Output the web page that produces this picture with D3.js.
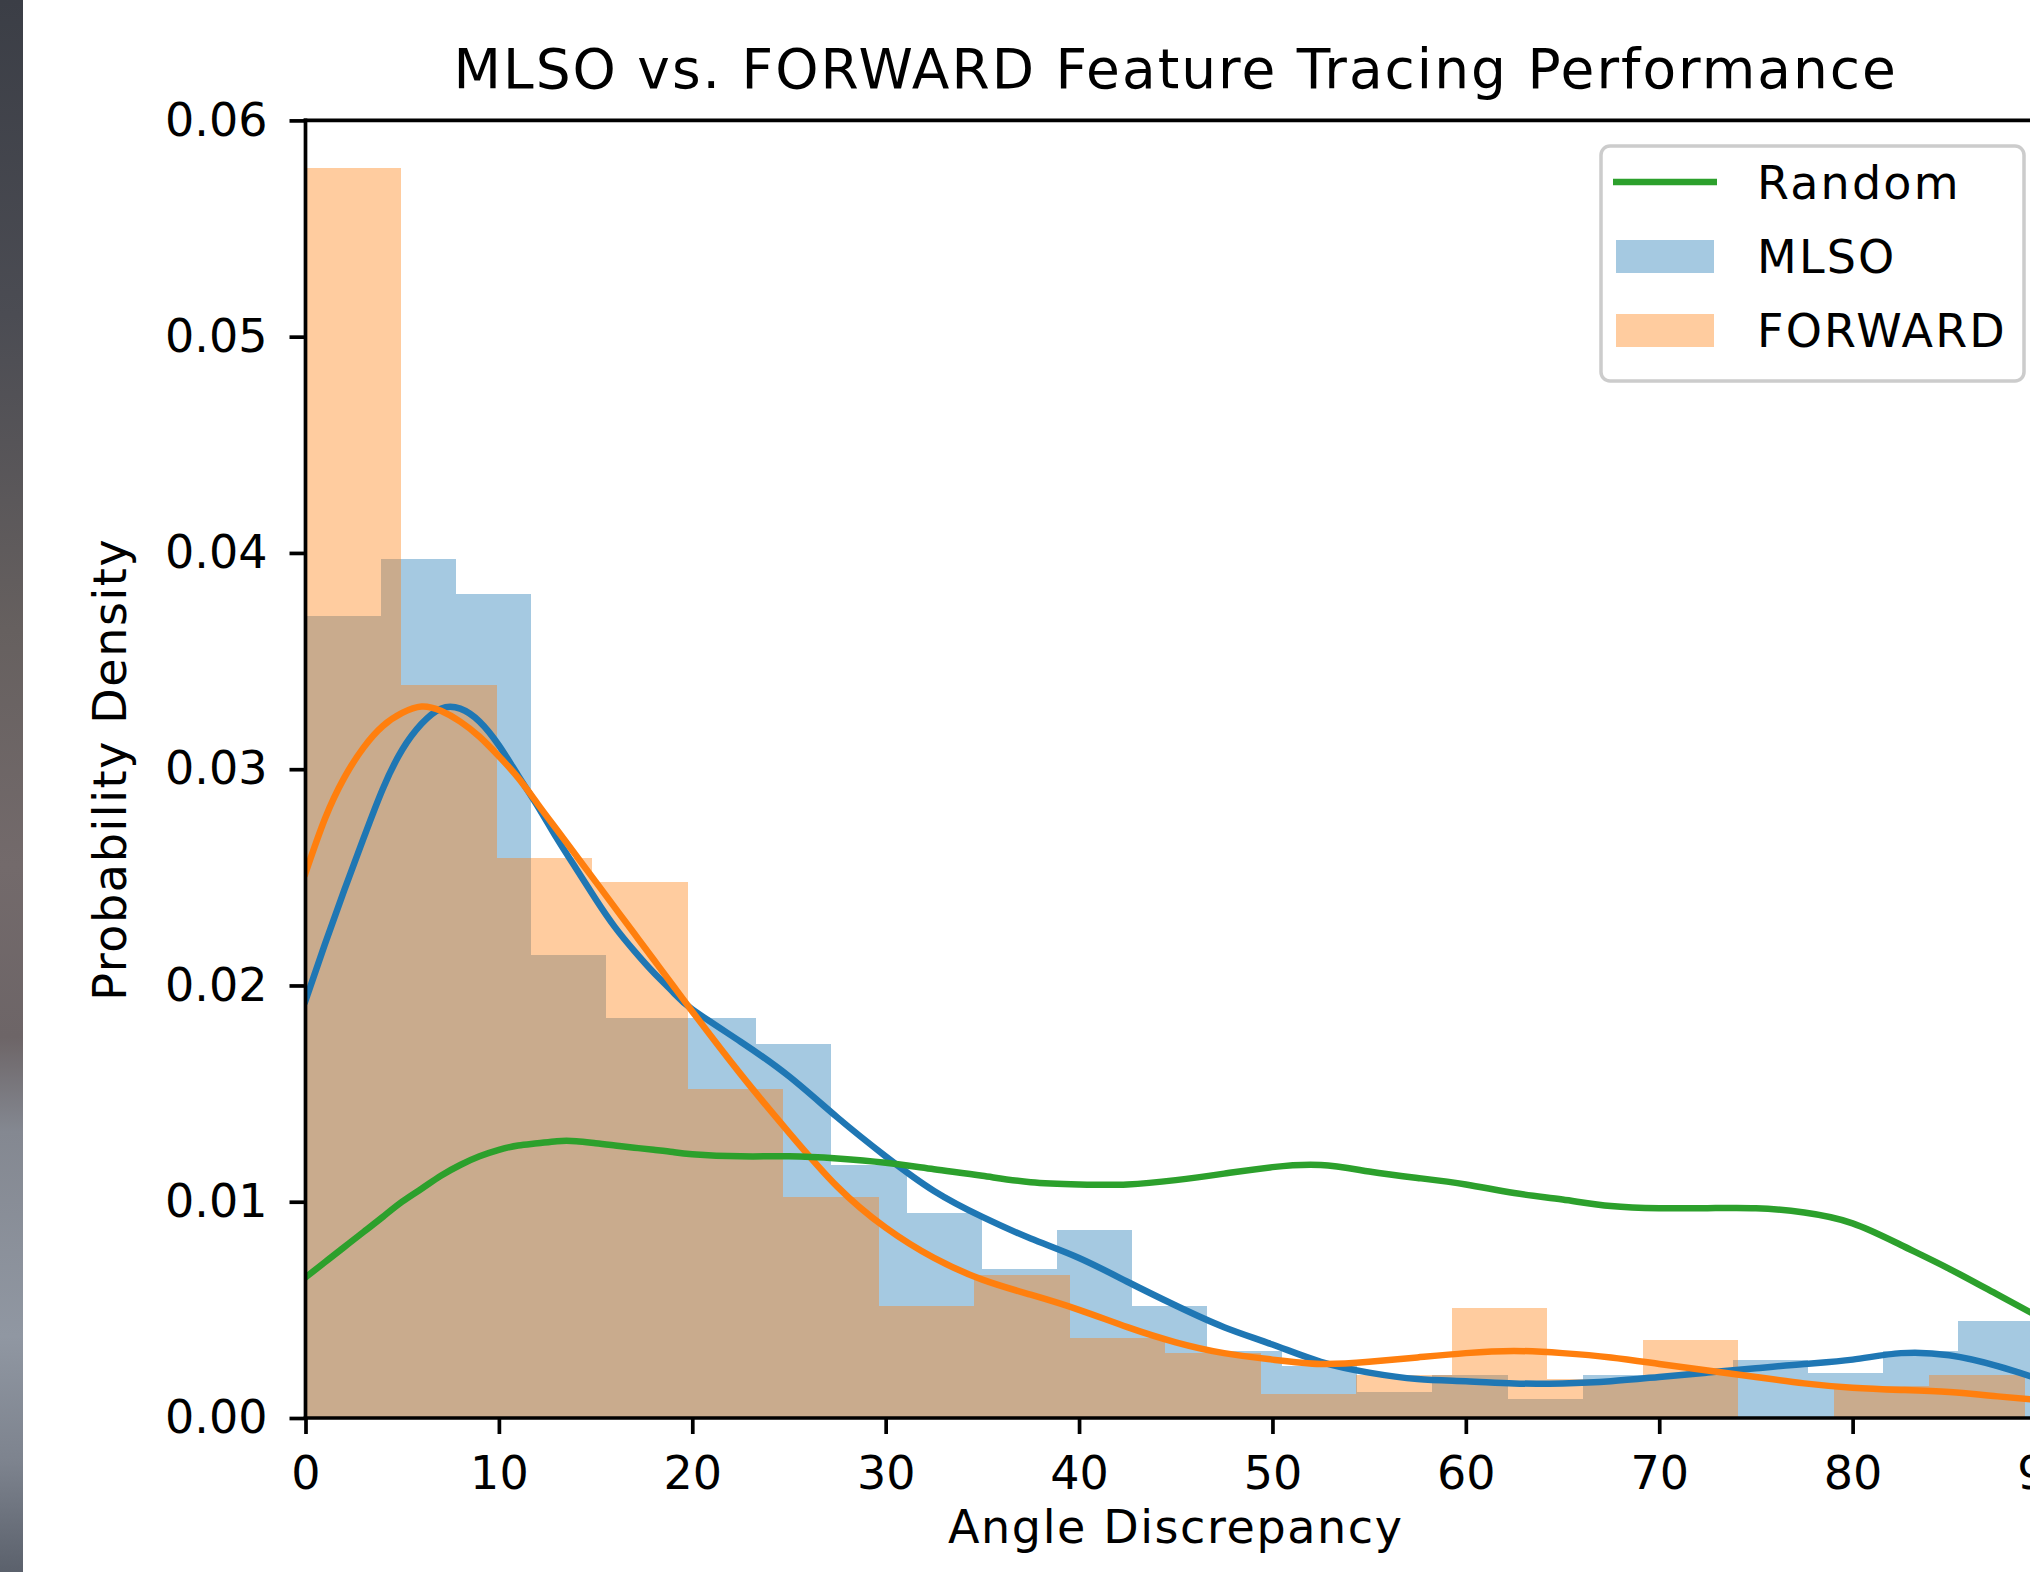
<!DOCTYPE html>
<html lang="en">
<head>
    <meta charset="UTF-8">
    <title>MLSO vs. FORWARD</title>
    <script src="https://d3js.org/d3.v7.min.js"></script>
    <style>
        * {
            margin: 0;
            padding: 0;
            box-sizing: border-box;
        }

        html, body {
            width: 2030px;
            height: 1572px;
            overflow: hidden;
            background: white;
        }

        svg {
            display: block;
            font-family: "DejaVu Sans", sans-serif;
        }
    </style>
</head>
<body>
<svg id="chart" width="2030" height="1572"></svg>
<script>
    // histogram bins (density)
    const mlsoBinStart = 0
    const mlsoBinWidth = 3.885
    const mlsoHeights = [0.0371, 0.0397, 0.0381, 0.0214, 0.0185, 0.0185, 0.0173, 0.0117, 0.0095, 0.0069,
        0.0087, 0.0052, 0.0031, 0.0024, 0.0012, 0.0020, 0.0009, 0.0020, 0.0020, 0.0027, 0.0021, 0.0031, 0.0045]

    const forwardBinStart = 0
    const forwardBinWidth = 4.939
    const forwardHeights = [0.0578, 0.0339, 0.0259, 0.0248, 0.0152, 0.0102, 0.0052, 0.0066, 0.0037, 0.0030,
        0.0011, 0.0020, 0.0051, 0.0018, 0.0036, 0.0, 0.0015, 0.0020]

    // KDE curves sampled along the x axis
    const kdeX = [0, 1, 2, 3, 4, 5, 6, 7, 8, 9, 10, 11, 12, 13, 14, 15, 16, 17, 18, 19, 20,
        22.5, 25, 27.5, 30, 32.5, 35, 37.5, 40, 42.5, 45, 47.5, 50, 52.5, 55, 57.5, 60,
        62.5, 65, 67.5, 70, 72.5, 75, 77.5, 80, 82.5, 85, 87.5, 90]
    const mlsoKde = [0.0193, 0.0219, 0.0244, 0.0268, 0.0291, 0.0309, 0.0321, 0.0328, 0.0328, 0.0322, 0.0311,
        0.0297, 0.0283, 0.0268, 0.0254, 0.0240, 0.0227, 0.0216, 0.0206, 0.0197, 0.0189,
        0.0174, 0.0158, 0.0139, 0.0121, 0.0105, 0.0093, 0.0083, 0.0074, 0.0063, 0.0052, 0.0042, 0.0034,
        0.0026, 0.0021, 0.0018, 0.0017, 0.0016, 0.0016, 0.0017, 0.0019, 0.0021, 0.0023, 0.0025, 0.0027,
        0.0030, 0.0029, 0.0024, 0.0017]
    const forwardKde = [0.0252, 0.0277, 0.0296, 0.0310, 0.0320, 0.0326, 0.0329, 0.0327, 0.0322, 0.0315, 0.0306,
        0.0296, 0.0284, 0.0272, 0.0260, 0.0248, 0.0236, 0.0224, 0.0212, 0.0200, 0.0188,
        0.0159, 0.0132, 0.0107, 0.0088, 0.0074, 0.0064, 0.0057, 0.0050, 0.0042, 0.0035, 0.0030, 0.0027,
        0.0025, 0.0026, 0.0028, 0.0030, 0.0031, 0.0030, 0.0028, 0.0025, 0.0022, 0.0019, 0.0016, 0.0014,
        0.0013, 0.0012, 0.0010, 0.0008]
    const randomKde = [0.0065, 0.0072, 0.0079, 0.0086, 0.0093, 0.0100, 0.0106, 0.0112, 0.0117, 0.0121, 0.0124,
        0.0126, 0.0127, 0.0128, 0.0128, 0.0127, 0.0126, 0.0125, 0.0124, 0.0123, 0.0122,
        0.0121, 0.0121, 0.0120, 0.0118, 0.0115, 0.0112, 0.0109, 0.0108, 0.0108, 0.0110, 0.0113, 0.0116,
        0.0117, 0.0114, 0.0111, 0.0108, 0.0104, 0.0101, 0.0098, 0.0097, 0.0097, 0.0097, 0.0095, 0.0090,
        0.0080, 0.0069, 0.0057, 0.0045]

    const xTicks = [0, 10, 20, 30, 40, 50, 60, 70, 80, 90]
    const yTicks = [0, 0.01, 0.02, 0.03, 0.04, 0.05, 0.06]

    const BLUE = "#1f77b4", ORANGE = "#ff7f0e", GREEN = "#2ca02c"
    const FONT = 46
    const LW = 3.7

    const plotLeft = 305.5, plotRight = 2046, plotTop = 120.4, plotBottom = 1418

    const x = d3.scaleLinear([0, 90], [plotLeft, plotRight])
    const y = d3.scaleLinear([0, 0.06], [plotBottom, plotTop])

    const svg = d3.select("#chart")
    svg.append("rect").attr("width", 2030).attr("height", 1572).attr("fill", "white")

    // photo strip at the left edge of the crop
    const grad = svg.append("defs").append("linearGradient")
        .attr("id", "strip").attr("x1", 0).attr("y1", 0).attr("x2", 0).attr("y2", 1)
    ;[[0, "#3b3e46"], [0.2, "#4b4c53"], [0.4, "#66605f"], [0.55, "#736a6b"], [0.66, "#6d6567"],
        [0.72, "#848891"], [0.85, "#9097a2"], [0.93, "#7d838e"], [1, "#5b616c"]]
        .forEach(([o, c]) => grad.append("stop").attr("offset", o).attr("stop-color", c))
    svg.append("rect").attr("width", 23).attr("height", 1572).attr("fill", "url(#strip)")

    svg.append("clipPath").attr("id", "plot")
        .append("rect").attr("x", plotLeft).attr("y", plotTop)
        .attr("width", plotRight - plotLeft).attr("height", plotBottom - plotTop)

    const plot = svg.append("g").attr("clip-path", "url(#plot)")

    function bins(start, width, heights) {
        return heights.map((h, i) => ({ x0: start + i * width, x1: start + (i + 1) * width, h }))
    }

    plot.append("g").selectAll("rect")
        .data(bins(mlsoBinStart, mlsoBinWidth, mlsoHeights))
        .join("rect")
        .attr("x", d => x(d.x0))
        .attr("width", d => x(d.x1) - x(d.x0))
        .attr("y", d => y(d.h))
        .attr("height", d => y(0) - y(d.h))
        .attr("fill", BLUE)
        .attr("fill-opacity", 0.4)
        .attr("shape-rendering", "crispEdges")

    plot.append("g").selectAll("rect")
        .data(bins(forwardBinStart, forwardBinWidth, forwardHeights))
        .join("rect")
        .attr("x", d => x(d.x0))
        .attr("width", d => x(d.x1) - x(d.x0))
        .attr("y", d => y(d.h))
        .attr("height", d => y(0) - y(d.h))
        .attr("fill", ORANGE)
        .attr("fill-opacity", 0.4)
        .attr("shape-rendering", "crispEdges")

    const line = d3.line()
        .x(d => x(d[0]))
        .y(d => y(d[1]))
        .curve(d3.curveNatural)

    ;[[mlsoKde, BLUE], [forwardKde, ORANGE], [randomKde, GREEN]].forEach(([vals, color]) => {
        plot.append("path")
            .attr("d", line(kdeX.map((v, i) => [v, vals[i]])))
            .attr("fill", "none")
            .attr("stroke", color)
            .attr("stroke-width", 6.5)
            .attr("stroke-linejoin", "round")
            .attr("stroke-linecap", "square")
    })

    // axes
    const xAxis = svg.append("g")
        .attr("transform", `translate(0,${plotBottom})`)
        .call(d3.axisBottom(x).tickValues(xTicks).tickFormat(d3.format("d"))
            .tickSize(16).tickSizeOuter(0).tickPadding(22))
    const yAxis = svg.append("g")
        .attr("transform", `translate(${plotLeft},0)`)
        .call(d3.axisLeft(y).tickValues(yTicks).tickFormat(d3.format(".2f"))
            .tickSize(16).tickSizeOuter(0).tickPadding(22))
    ;[xAxis, yAxis].forEach(a => {
        a.select(".domain").remove()
        a.selectAll("line").attr("stroke", "black").attr("stroke-width", LW)
        a.selectAll("text").attr("fill", "black").attr("font-size", FONT)
            .attr("font-family", "DejaVu Sans")
    })

    // spines
    const spines = svg.append("g").attr("stroke", "black").attr("stroke-width", LW)
        .attr("stroke-linecap", "square")
    spines.append("line").attr("x1", plotLeft).attr("x2", plotLeft).attr("y1", plotTop).attr("y2", plotBottom)
    spines.append("line").attr("x1", plotLeft).attr("x2", plotRight).attr("y1", plotBottom).attr("y2", plotBottom)
    spines.append("line").attr("x1", plotLeft).attr("x2", plotRight).attr("y1", plotTop).attr("y2", plotTop)
    spines.append("line").attr("x1", plotRight).attr("x2", plotRight).attr("y1", plotTop).attr("y2", plotBottom)

    // labels
    svg.append("text")
        .attr("x", (plotLeft + plotRight) / 2).attr("y", 88)
        .attr("text-anchor", "middle").attr("font-size", 55)
        .attr("letter-spacing", 2.0)
        .text("MLSO vs. FORWARD Feature Tracing Performance")
    svg.append("text")
        .attr("x", (plotLeft + plotRight) / 2).attr("y", 1543)
        .attr("text-anchor", "middle").attr("font-size", FONT)
        .attr("letter-spacing", 1.6)
        .text("Angle Discrepancy")
    svg.append("text")
        .attr("transform", `translate(126,${(plotTop + plotBottom) / 2}) rotate(-90)`)
        .attr("text-anchor", "middle").attr("font-size", FONT)
        .attr("letter-spacing", 1.6)
        .text("Probability Density")

    // legend
    const legend = svg.append("g")
    legend.append("rect")
        .attr("x", 1601).attr("y", 146).attr("width", 423).attr("height", 235)
        .attr("rx", 9).attr("fill", "white").attr("fill-opacity", 0.8)
        .attr("stroke", "#cccccc").attr("stroke-width", 3.5)
    const items = [
        { label: "Random", color: GREEN, kind: "line" },
        { label: "MLSO", color: BLUE, kind: "patch" },
        { label: "FORWARD", color: ORANGE, kind: "patch" },
    ]
    items.forEach((it, i) => {
        const cy = 182 + i * 74
        if (it.kind === "line") {
            legend.append("line")
                .attr("x1", 1613).attr("x2", 1717).attr("y1", cy).attr("y2", cy)
                .attr("stroke", it.color).attr("stroke-width", 6.5)
        } else {
            legend.append("rect")
                .attr("x", 1616).attr("y", cy - 16).attr("width", 98).attr("height", 33)
                .attr("fill", it.color).attr("fill-opacity", 0.4)
        }
        legend.append("text")
            .attr("x", 1757).attr("y", cy + 17)
            .attr("font-size", FONT)
            .attr("letter-spacing", 2.2)
            .text(it.label)
    })
</script>
</body>
</html>
